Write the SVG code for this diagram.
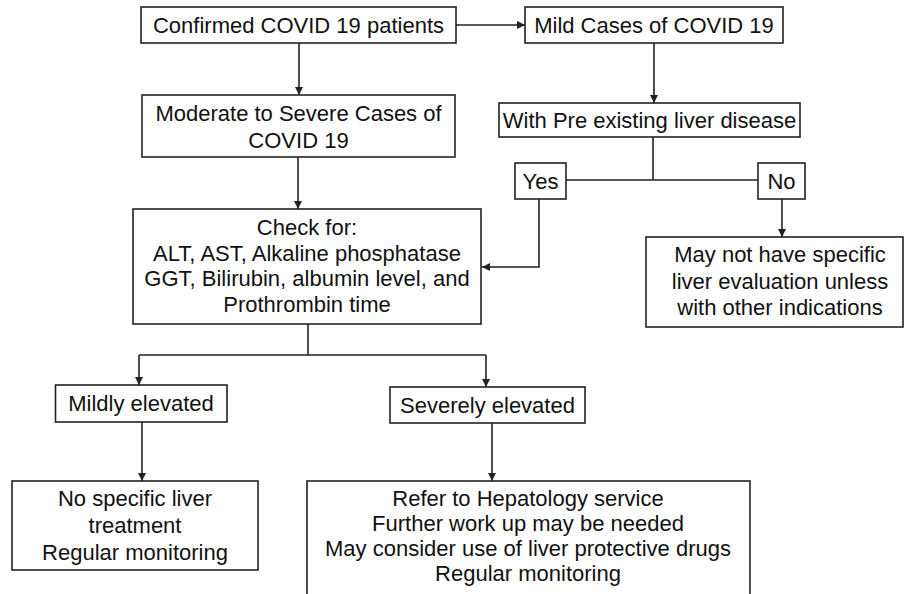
<svg xmlns="http://www.w3.org/2000/svg" width="904" height="594" viewBox="0 0 904 594">
<style>
rect.n{fill:#fff;stroke:#222;stroke-width:1.6}
text{font-family:"Liberation Sans",Arial,sans-serif;font-size:22px;fill:#111;text-anchor:middle}
.c{stroke:#222;stroke-width:1.6;fill:none}
</style>
<defs>
<marker id="ah" viewBox="0 0 10 10" refX="10" refY="5" markerWidth="8" markerHeight="8" markerUnits="userSpaceOnUse" orient="auto">
<path d="M0,0 L10,5 L0,10 z" fill="#222"/>
</marker>
</defs>
<rect width="904" height="594" fill="#fff"/>
<g id="connectors">
<path class="c" d="M456,25 H525" marker-end="url(#ah)"/>
<path class="c" d="M299,43 V95" marker-end="url(#ah)"/>
<path class="c" d="M654,43 V103" marker-end="url(#ah)"/>
<path class="c" d="M298,157 V209" marker-end="url(#ah)"/>
<path class="c" d="M653,137 V180"/>
<path class="c" d="M566,180 H758"/>
<path class="c" d="M539,199 V267 H482" marker-end="url(#ah)"/>
<path class="c" d="M782,199 V237" marker-end="url(#ah)"/>
<path class="c" d="M308,324 V355"/>
<path class="c" d="M139,355 H486"/>
<path class="c" d="M139,355 V385" marker-end="url(#ah)"/>
<path class="c" d="M486,355 V387" marker-end="url(#ah)"/>
<path class="c" d="M142,422 V481" marker-end="url(#ah)"/>
<path class="c" d="M492,423 V481" marker-end="url(#ah)"/>
</g>
<g id="confirmed">
<rect class="n" x="141" y="7" width="315" height="36"/>
<text x="298.5" y="33">Confirmed COVID 19 patients</text>
</g>
<g id="mild">
<rect class="n" x="525" y="7" width="258" height="36"/>
<text x="654" y="33">Mild Cases of COVID 19</text>
</g>
<g id="moderate">
<rect class="n" x="142" y="95" width="313" height="62"/>
<text x="298.5" y="121">Moderate to Severe Cases of</text>
<text x="298.5" y="148">COVID 19</text>
</g>
<g id="preexisting">
<rect class="n" x="499" y="103" width="301" height="34"/>
<text x="649.5" y="128">With Pre existing liver disease</text>
</g>
<g id="yes">
<rect class="n" x="515" y="163" width="51" height="36"/>
<text x="540.5" y="189">Yes</text>
</g>
<g id="no">
<rect class="n" x="758" y="163" width="47" height="36"/>
<text x="781.5" y="189">No</text>
</g>
<g id="check">
<rect class="n" x="133" y="209" width="348" height="115"/>
<text x="307" y="235">Check for:</text>
<text x="307" y="261">ALT, AST, Alkaline phosphatase</text>
<text x="307" y="286">GGT, Bilirubin, albumin level, and</text>
<text x="307" y="312">Prothrombin time</text>
</g>
<g id="maynot">
<rect class="n" x="646" y="237" width="257" height="90"/>
<text x="780" y="262">May not have specific</text>
<text x="780" y="289">liver evaluation unless</text>
<text x="780" y="315">with other indications</text>
</g>
<g id="mildly">
<rect class="n" x="55.5" y="385" width="171.5" height="37"/>
<text x="141" y="411">Mildly elevated</text>
</g>
<g id="severely">
<rect class="n" x="390" y="387" width="195" height="36"/>
<text x="487.5" y="413">Severely elevated</text>
</g>
<g id="nospecific">
<rect class="n" x="12" y="481" width="246" height="89"/>
<text x="135" y="506">No specific liver</text>
<text x="135" y="533">treatment</text>
<text x="135" y="560">Regular monitoring</text>
</g>
<g id="refer">
<rect class="n" x="307" y="481" width="443" height="130"/>
<text x="528" y="506">Refer to Hepatology service</text>
<text x="528" y="531">Further work up may be needed</text>
<text x="528" y="556">May consider use of liver protective drugs</text>
<text x="528" y="581">Regular monitoring</text>
</g>
</svg>
